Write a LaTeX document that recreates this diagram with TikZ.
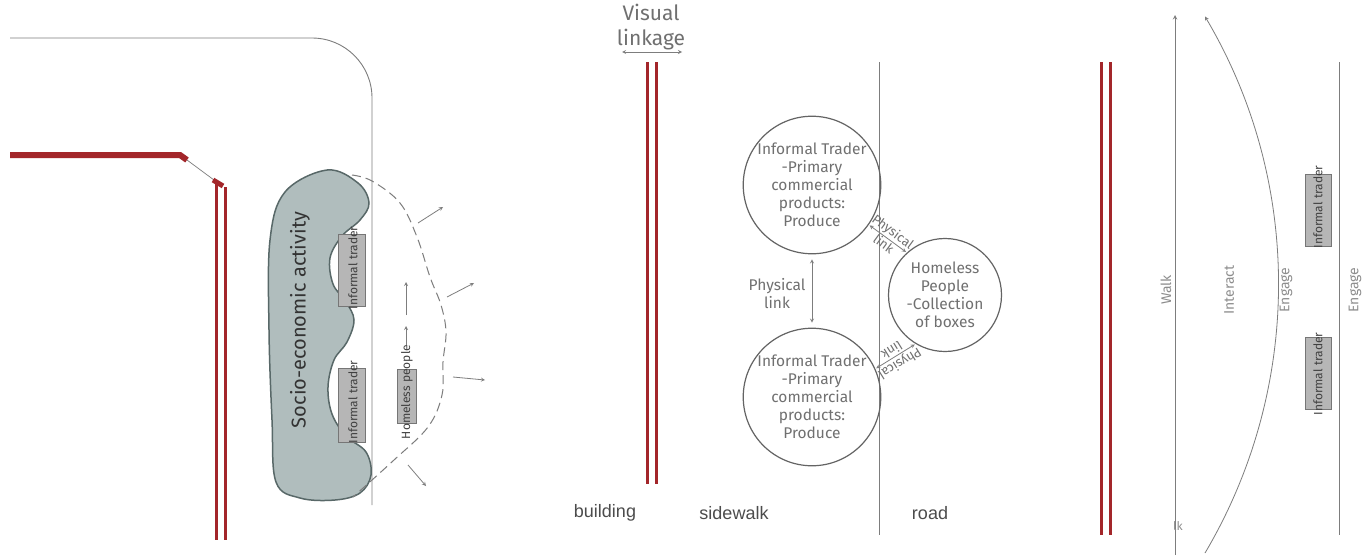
\documentclass[tikz,border=0pt]{standalone}
\usepackage{fontspec}
\setmainfont{Fira Sans}
\newfontfamily\arialfont{Liberation Sans}
\definecolor{wallred}{RGB}{163,38,42}
\definecolor{linegray}{RGB}{125,125,125}
\definecolor{textgray}{RGB}{112,112,112}
\definecolor{blobfill}{RGB}{176,189,189}
\definecolor{blobline}{RGB}{88,104,104}
\definecolor{boxfill}{RGB}{182,182,182}
\definecolor{boxline}{RGB}{118,118,118}
\tikzset{
  >=stealth,
  wall/.style={draw=wallred, line width=3pt},
  thinline/.style={draw=linegray, line width=0.9pt},
  bubble/.style={circle, draw=linegray!80!black, line width=1.2pt, text=textgray, align=center,
    font=\fontsize{15.5}{18}\selectfont, inner sep=0pt},
  tradebox/.style={rectangle, draw=boxline, fill=boxfill, line width=1pt, inner sep=0pt},
  smalltext/.style={text=black!75, font=\fontsize{12}{14}\selectfont, rotate=90, inner sep=0pt},
  zonetext/.style={text=textgray!80, font=\fontsize{14}{16}\selectfont, rotate=90, inner sep=0pt},
  linktext/.style={inner sep=1pt, text=textgray, font=\fontsize{13}{15}\selectfont},
  streettext/.style={text=black!70, font=\arialfont\fontsize{18}{20}\selectfont, inner sep=0pt}
}

\begin{document}
\begin{tikzpicture}[x=1pt, y=-1pt]
  \useasboundingbox[fill=white] (0,0) rectangle (1370,555);

  % left panel: plan view
  \draw[thinline, rounded corners=60pt] (10,38) -- (372,38) -- (372,505);
  \draw[wall, line width=6pt] (10,155) -- (180,155) -- (187,160);
  \draw[linegray, line width=0.7pt] (187,160) -- (214,180);
  \draw[wall, line width=5pt] (213,180) -- (223,186);
  \draw[wall] (216,183) -- (216,540);
  \draw[wall] (225,187) -- (225,540);

  \draw[fill=blobfill, draw=blobline, line width=1.5pt] plot[smooth cycle, tension=0.6] coordinates {
    (327,170) (358,183) (369,203) (360,220) (342,236) (330,258) (333,284) (346,302)
    (354,320) (347,342) (334,360) (328,387) (332,414) (346,436) (366,452) (371,475)
    (360,493) (335,500) (300,498) (276,482) (272,420) (269,330) (270,240) (285,192)};
  \node[text=black!80, font=\fontsize{20}{22}\selectfont, rotate=90] (socio) at (300,320) {Socio-economic activity};

  \node[tradebox, minimum width=27pt, minimum height=72pt] (tradeA) at (352,270) {};
  \node[smalltext] (tradeAtxt) at (353,268) {Informal trader};
  \node[tradebox, minimum width=27pt, minimum height=74pt] (tradeB) at (352,405) {};
  \node[smalltext] (tradeBtxt) at (353,402) {Informal trader};
  \node[tradebox, minimum width=19pt, minimum height=54pt] (homebox) at (407,396) {};
  \node[smalltext] (hometxt) at (407,392) {Homeless people};

  \coordinate (upA) at (406,345);
  \coordinate (upB) at (406,326);
  \coordinate (upC) at (406,315);
  \coordinate (upD) at (406,282);
  \draw[->, linegray, line width=0.8pt] (upA) -- (upB);
  \draw[->, linegray, line width=0.8pt] (upC) -- (upD);

  \draw[linegray, line width=1pt, dash pattern=on 9pt off 5pt] plot[smooth, tension=0.6] coordinates {
    (352,175) (372,181) (400,203) (417,237) (430,277) (441,305) (446,332) (443,362)
    (442,395) (428,427) (394,460) (353,497)};

  \coordinate (ra1) at (418,223); \coordinate (rb1) at (443,207);
  \coordinate (ra2) at (447,297); \coordinate (rb2) at (474,283);
  \coordinate (ra3) at (453,377); \coordinate (rb3) at (485,380);
  \coordinate (ra4) at (408,465); \coordinate (rb4) at (426,486);
  \foreach \i in {1,...,4}
    \draw[->, linegray, line width=0.8pt] (ra\i) -- (rb\i);

  % middle panel: section with links
  \node[text=textgray, align=center, font=\fontsize{21}{25}\selectfont] (vislink) at (651,27) {Visual\\linkage};
  \coordinate (vlL) at (622,52);
  \coordinate (vlR) at (682,52);
  \draw[<->, linegray, line width=0.8pt] (vlL) -- (vlR);
  \draw[wall] (647,62) -- (647,484);
  \draw[wall] (656,62) -- (656,484);
  \draw[thinline] (879,62) -- (879,535);

  \node[bubble, minimum size=136pt] (traderA) at (812,185) {Informal Trader\\-Primary\\commercial\\products:\\Produce};
  \node[bubble, minimum size=136pt] (traderB) at (812,397) {Informal Trader\\-Primary\\commercial\\products:\\Produce};
  \node[bubble, minimum size=113pt] (homeless) at (945,295) {Homeless\\People\\-Collection\\of boxes};

  \draw[<->, linegray, line width=0.8pt, shorten >=5pt, shorten <=5pt] (traderA) -- (traderB);
  \node[text=textgray, align=center, font=\fontsize{15.5}{18}\selectfont] (linkmid) at (777,294) {Physical\\link};
  \draw[<->, linegray, line width=0.8pt, shorten >=1pt, shorten <=1pt] (traderA.-35) -- (homeless.132)
    node[midway, sloped, above, linktext] {Physical}
    node[midway, sloped, below, linktext] {link};
  \draw[<->, linegray, line width=0.8pt, shorten >=1pt, shorten <=1pt] (homeless.239) -- (traderB.24)
    node[midway, sloped, allow upside down, above, linktext] {Physical}
    node[midway, sloped, allow upside down, below, linktext] {link};

  \node[streettext] (building) at (605,513) {building};
  \node[streettext] (sidewalk) at (734,513) {sidewalk};
  \node[streettext] (road) at (930,513) {road};

  % right panel: zones
  \draw[wall] (1101,62) -- (1101,535);
  \draw[wall] (1110,62) -- (1110,535);
  \coordinate (walkS) at (1175,555);
  \coordinate (walkN) at (1175,15);
  \draw[->, linegray, line width=1pt] (walkS) -- (walkN);
  \draw[->, linegray, line width=0.8pt] (1205,553) arc[start angle=30.6, end angle=-30.6, radius=527];
  \draw[thinline] (1339,62) -- (1339,535);

  \node[zonetext] (walk) at (1166,290) {Walk};
  \node[zonetext] (interact) at (1229,290) {Interact};
  \node[zonetext] (engageA) at (1286,290) {Engage};
  \node[zonetext] (engageB) at (1355,290) {Engage};
  \node[text=textgray!80, font=\fontsize{12}{14}\selectfont, inner sep=0pt] (walkend) at (1178,526) {lk};

  \node[tradebox, minimum width=26pt, minimum height=72pt] (tradeC) at (1318,210) {};
  \node[smalltext] (tradeCtxt) at (1318,207) {Informal trader};
  \node[tradebox, minimum width=26pt, minimum height=72pt] (tradeD) at (1318,373) {};
  \node[smalltext] (tradeDtxt) at (1318,374) {Informal trader};
\end{tikzpicture}
\end{document}
